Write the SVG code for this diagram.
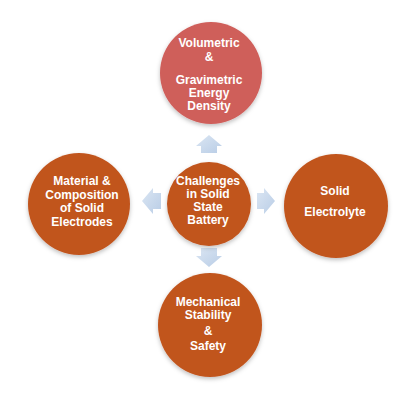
<svg xmlns="http://www.w3.org/2000/svg" width="420" height="404" viewBox="0 0 420 404">
<defs>
<filter id="sh" x="-20%" y="-20%" width="140%" height="140%">
<feDropShadow dx="0" dy="2" stdDeviation="2" flood-color="#000" flood-opacity="0.25"/>
</filter>
<linearGradient id="ag" x1="0" y1="0" x2="1" y2="1">
<stop offset="0" stop-color="#dbe6f3"/>
<stop offset="1" stop-color="#b9cde6"/>
</linearGradient>
</defs>
<style>
.c{fill:#c1541d;filter:url(#sh)}
.r{fill:#cf5e5a;filter:url(#sh)}
.t{font-family:"Liberation Sans",Arial,sans-serif;font-weight:bold;font-size:12px;fill:#fff;text-anchor:middle}
.a{fill:url(#ag)}
</style>
<rect width="420" height="404" fill="#fff"/>
<g id="connectors">
<path class="a" d="M209,135 L222,146 L217,146 L217,153 L201,153 L201,146 L196,146 Z"/>
<path class="a" d="M209,267 L222,256 L217,256 L217,248 L201,248 L201,256 L196,256 Z"/>
<path class="a" d="M142,201 L153,188 L153,193 L161,193 L161,209 L153,209 L153,214 Z"/>
<path class="a" d="M275,201 L264,188 L264,193 L257,193 L257,209 L264,209 L264,214 Z"/>
</g>
<g id="top">
<circle class="r" cx="211" cy="73" r="51"/>
<text class="t" x="209" y="47">Volumetric</text>
<text class="t" x="209" y="61">&amp;</text>
<text class="t" x="209" y="84">Gravimetric</text>
<text class="t" x="209" y="97">Energy</text>
<text class="t" x="209" y="110">Density</text>
</g>
<g id="center">
<circle class="c" cx="209" cy="204" r="42"/>
<text class="t" x="208" y="185">Challenges</text>
<text class="t" x="208" y="198">in Solid</text>
<text class="t" x="208" y="211">State</text>
<text class="t" x="208" y="224">Battery</text>
</g>
<g id="left">
<circle class="c" cx="79" cy="204" r="51"/>
<text class="t" x="82" y="185">Material &amp;</text>
<text class="t" x="82" y="199">Composition</text>
<text class="t" x="82" y="212">of Solid</text>
<text class="t" x="82" y="226">Electrodes</text>
</g>
<g id="right">
<circle class="c" cx="336" cy="206" r="52"/>
<text class="t" x="335" y="195">Solid</text>
<text class="t" x="335" y="216">Electrolyte</text>
</g>
<g id="bottom">
<circle class="c" cx="210" cy="325" r="52"/>
<text class="t" x="208" y="306">Mechanical</text>
<text class="t" x="208" y="319">Stability</text>
<text class="t" x="208" y="335">&amp;</text>
<text class="t" x="208" y="350">Safety</text>
</g>
</svg>
